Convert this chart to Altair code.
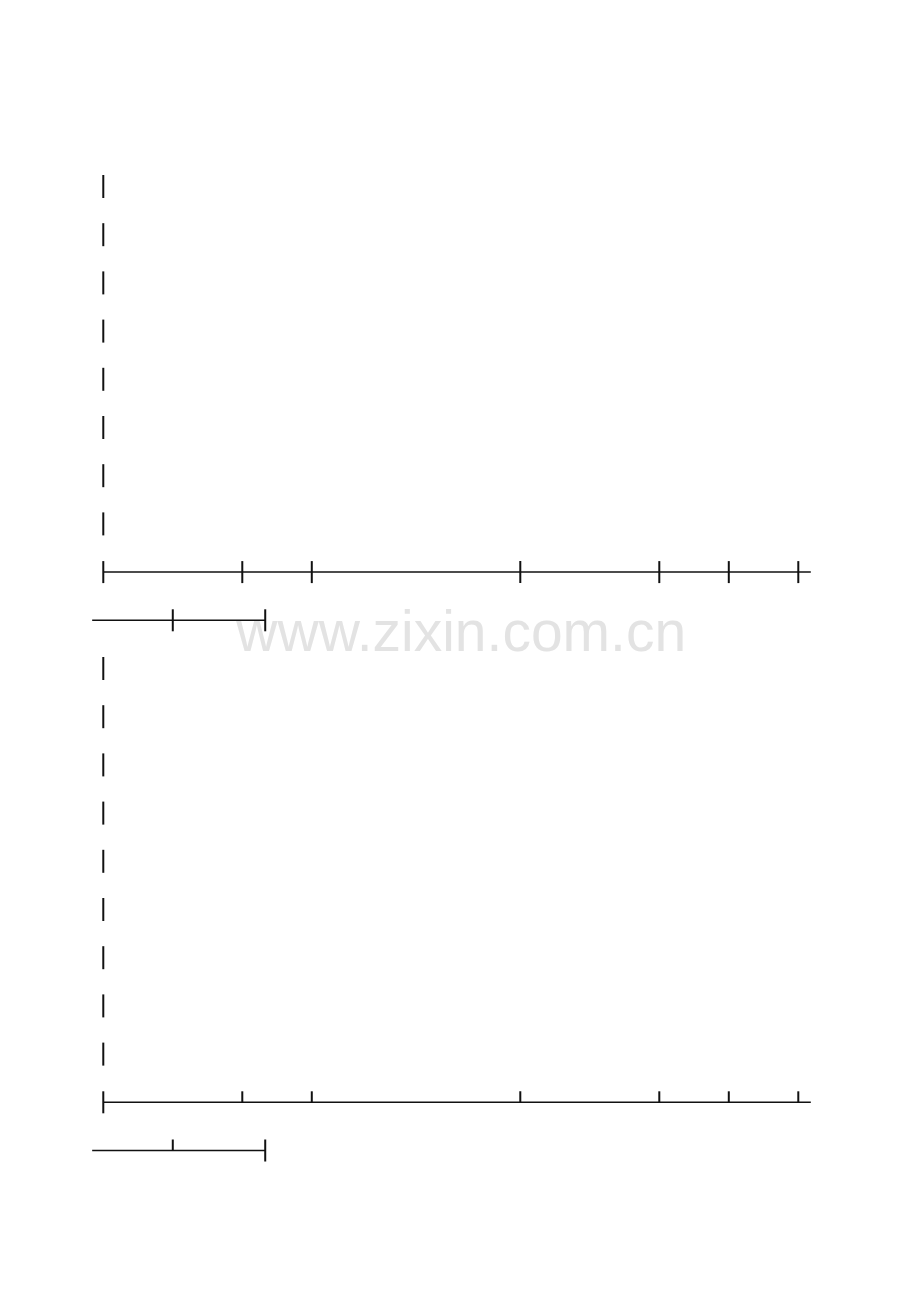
import pandas as pd
import altair as alt

# rows are on a 48px grid, x is in "axis units" (one unit ~ 69.5px)
vtick_rows = [0, 1, 2, 3, 4, 5, 6, 7, 10, 11, 12, 13, 14, 15, 16, 17, 18]
vtick_x = 0

axis_rows = [8, 19]
axis_ticks = [0, 2, 3, 6, 8, 9, 10]
axis_start = 0
axis_end = 10.18
# how the axis ticks are drawn in each block: through the line or only above it
axis_tick_kind = {8: ["cross"] * 7, 19: ["cross", "up", "up", "up", "up", "up", "up"]}

short_rows = [9, 20]
short_start = -0.16
short_ticks = [1, 2.33]
short_tick_kind = {9: ["cross", "cross"], 20: ["up", "cross"]}

watermark = ["www.zixin.com.cn"]
watermark_x = [5.15]
watermark_row = [9.64]

x_scale = alt.Scale(domain=[-1.371, 11.636], nice=False, zero=False)
y_scale = alt.Scale(domain=[-3.703, 22.977], nice=False, zero=False, reverse=True)

df_vticks = pd.DataFrame({"x": [vtick_x] * len(vtick_rows), "row": vtick_rows})

df_lines = pd.DataFrame({
    "x": [axis_start] * len(axis_rows) + [short_start] * len(short_rows),
    "x2": [axis_end] * len(axis_rows) + [max(short_ticks)] * len(short_rows),
    "row": axis_rows + short_rows,
})

tick_records = []
for r in axis_rows:
    for x, kind in zip(axis_ticks, axis_tick_kind[r]):
        tick_records.append({"x": x, "row": r, "kind": kind})
for r in short_rows:
    for x, kind in zip(short_ticks, short_tick_kind[r]):
        tick_records.append({"x": x, "row": r, "kind": kind})
df_ticks = pd.DataFrame(tick_records)

df_wm = pd.DataFrame({"text": watermark, "x": watermark_x, "row": watermark_row})

X = lambda f="x": alt.X(f"{f}:Q", scale=x_scale, axis=None)
Y = alt.Y("row:Q", scale=y_scale, axis=None)

wm = alt.Chart(df_wm).mark_text(
    font="Liberation Sans", fontSize=57, color="#e3e3e3",
    align="center", baseline="alphabetic",
).encode(x=X(), y=Y, text="text:N")

vticks = alt.Chart(df_vticks).mark_tick(
    orient="vertical", size=23, thickness=2, color="#111", opacity=1
).encode(x=X(), y=Y)

lines = alt.Chart(df_lines).mark_rule(color="#111", strokeWidth=1.5).encode(
    x=X(), x2="x2:Q", y=Y
)

cross = alt.Chart(df_ticks).transform_filter(alt.datum.kind == "cross").mark_tick(
    orient="vertical", size=22, thickness=2, color="#111", opacity=1
).encode(x=X(), y=Y)

up = alt.Chart(df_ticks).transform_filter(alt.datum.kind == "up").mark_tick(
    orient="vertical", size=11, thickness=2, color="#111", opacity=1, yOffset=-5.5
).encode(x=X(), y=Y)

chart = alt.layer(wm, lines, vticks, cross, up).properties(
    width=904, height=1286, padding=0, autosize=alt.AutoSizeParams(type="none"),
    background="white",
).configure_view(stroke=None)

chart.save("out.html", embed_options={"renderer": "svg", "actions": False})
